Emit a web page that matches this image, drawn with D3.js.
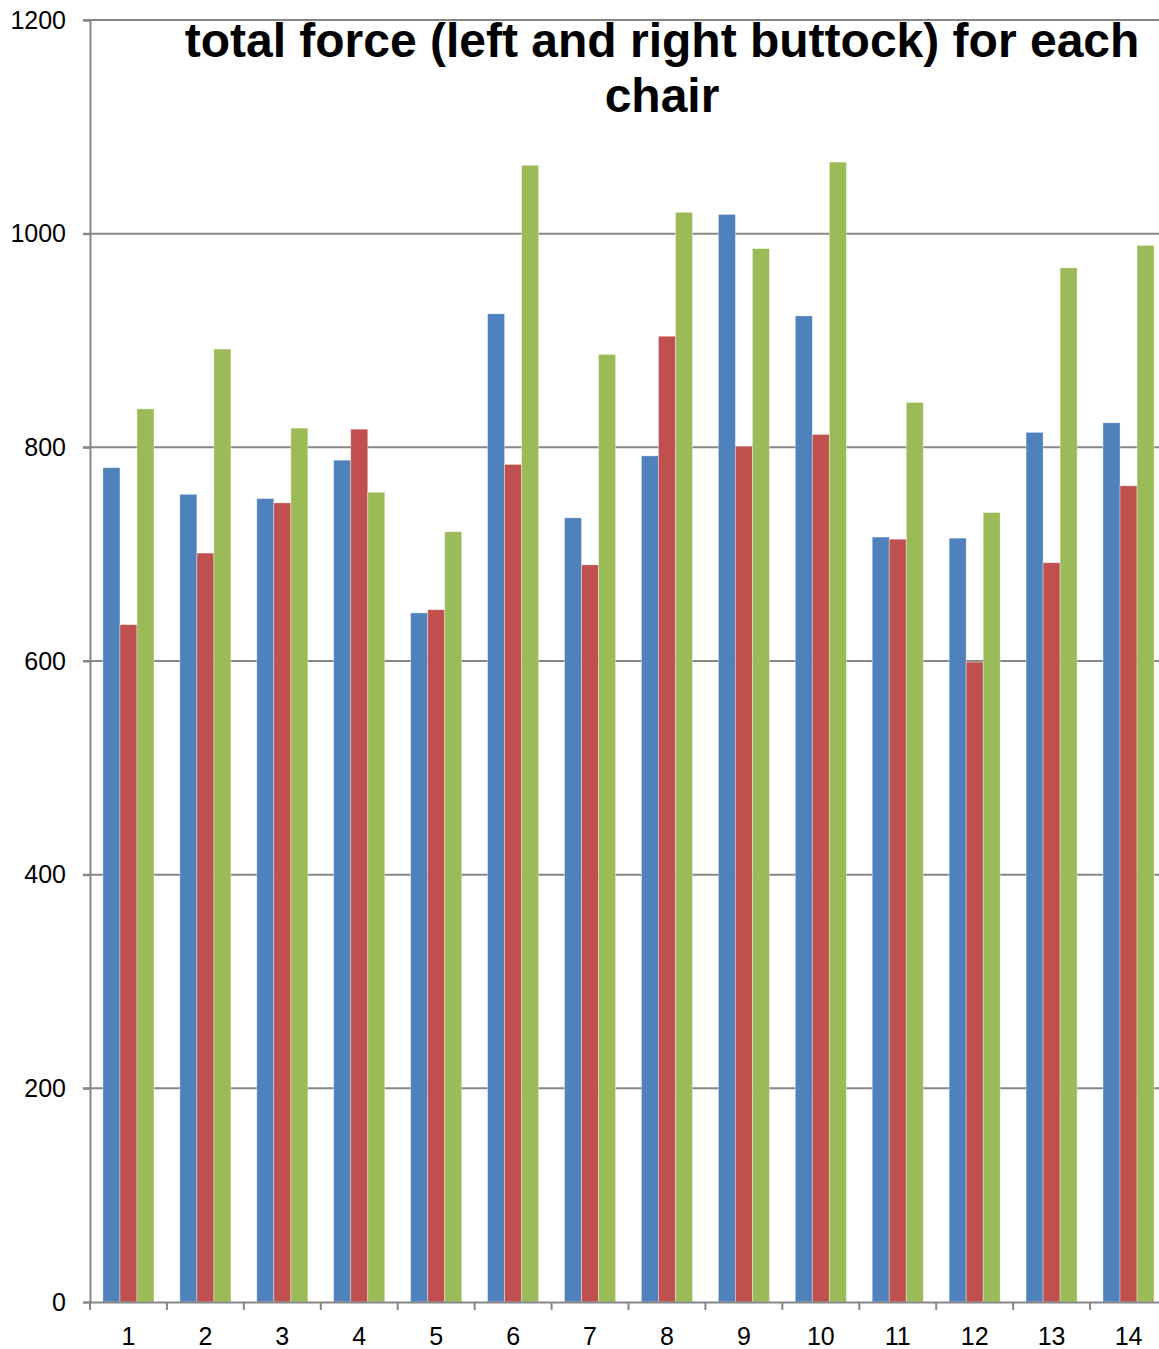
<!DOCTYPE html>
<html>
<head>
<meta charset="utf-8">
<script src="https://cdn.jsdelivr.net/npm/d3@7"></script>
<style>
    html, body { margin: 0; padding: 0; background: #fff; }
    svg { display: block; font-family: "Liberation Sans", Arial, sans-serif; }
</style>
</head>
<body>
<div id="chart"></div>
<script>
// total force per chair, three measurement series
const chairs = ['1', '2', '3', '4', '5', '6', '7', '8', '9', '10', '11', '12', '13', '14'];
const seriesNames = ['series1', 'series2', 'series3'];
const series1 = [781, 756, 752, 788, 645, 925, 734, 792, 1018, 923, 716, 715, 814, 823];
const series2 = [634, 701, 748, 817, 648, 784, 690, 904, 801, 812, 714, 599, 692, 764];
const series3 = [836, 892, 818, 758, 721, 1064, 887, 1020, 986, 1067, 842, 739, 968, 989];
const yTicks = [0, 200, 400, 600, 800, 1000, 1200];
const titleLines = ['total force (left and right buttock) for each', 'chair'];
const colors = ['#4F81BD', '#C0504D', '#9BBB59'];

class BarChartView {
    constructor(containerId) {
        this.container = d3.select(containerId);
        this.width = 1159;
        this.height = 1349;
        this.margin = { top: 20, left: 90 };
        this.plotWidth = 1077;
        this.plotHeight = 1282;

        this.svg = this.container.append('svg')
            .attr('width', this.width)
            .attr('height', this.height);
        this.g = this.svg.append('g')
            .attr('transform', `translate(${this.margin.left},${this.margin.top})`);
    }

    render() {
        const data = chairs.map((c, i) => ({
            chair: c,
            values: [series1[i], series2[i], series3[i]]
        }));

        const x0 = d3.scaleBand().domain(chairs).range([0, this.plotWidth]).padding(0);
        const x1 = d3.scaleBand().domain(seriesNames).range([0, x0.bandwidth()])
            .paddingInner(0).paddingOuter(0.76);
        const y = d3.scaleLinear().domain([0, 1200]).range([this.plotHeight, 0]);

        // Gridlines
        this.g.selectAll('.grid')
            .data(yTicks.filter(t => t > 0))
            .enter().append('line')
            .attr('class', 'grid')
            .attr('x1', -7)
            .attr('x2', this.plotWidth)
            .attr('y1', d => y(d))
            .attr('y2', d => y(d))
            .style('stroke', '#868686')
            .style('stroke-width', 2);

        // Bars
        const group = this.g.selectAll('.group')
            .data(data)
            .enter().append('g')
            .attr('class', 'group')
            .attr('transform', d => `translate(${x0(d.chair)},0)`);

        group.selectAll('rect')
            .data(d => d.values.map((v, k) => ({ key: seriesNames[k], value: v, k })))
            .enter().append('rect')
            .attr('x', d => x1(d.key))
            .attr('y', d => y(d.value))
            .attr('width', x1.bandwidth())
            .attr('height', d => y(0) - y(d.value))
            .style('fill', d => colors[d.k])
            .style('stroke', 'rgba(255,255,255,0.45)')
            .style('stroke-width', 0.8);

        // Y axis
        const yAxis = d3.axisLeft(y).tickValues(yTicks).tickFormat(d3.format('d'))
            .tickSize(7).tickPadding(17);
        const ya = this.g.append('g').call(yAxis);
        this.styleAxis(ya);

        // X axis with ticks at category boundaries
        const xa = this.g.append('g')
            .attr('transform', `translate(0,${this.plotHeight})`)
            .call(d3.axisBottom(x0).tickSize(0).tickPadding(25));
        this.styleAxis(xa);
        this.g.selectAll('.xtick')
            .data(d3.range(chairs.length + 1))
            .enter().append('line')
            .attr('class', 'xtick')
            .attr('x1', i => i * x0.step())
            .attr('x2', i => i * x0.step())
            .attr('y1', this.plotHeight)
            .attr('y2', this.plotHeight + 8)
            .style('stroke', '#868686')
            .style('stroke-width', 2);

        // Title
        this.svg.append('text')
            .attr('x', 662)
            .attr('y', 57)
            .attr('text-anchor', 'middle')
            .style('font-size', '48px')
            .style('font-weight', 'bold')
            .selectAll('tspan')
            .data(titleLines)
            .enter().append('tspan')
            .attr('x', 662)
            .attr('dy', (d, i) => i === 0 ? 0 : 55)
            .text(d => d);
    }

    styleAxis(axis) {
        axis.select('.domain').style('stroke', '#868686').style('stroke-width', 2);
        axis.selectAll('.tick line').style('stroke', '#868686').style('stroke-width', 2);
        axis.selectAll('.tick text')
            .style('font-size', '25px')
            .style('font-family', '"Liberation Sans", Arial, sans-serif')
            .style('fill', '#000');
    }
}

const view = new BarChartView('#chart');
view.render();
</script>
</body>
</html>
